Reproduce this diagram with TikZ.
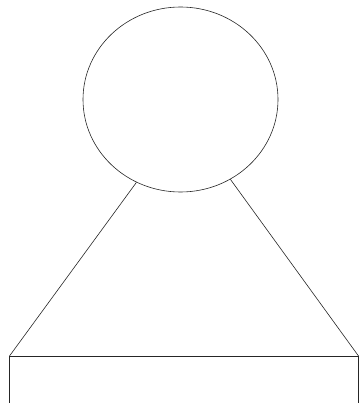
\documentclass[tikz,border=0pt]{standalone}
\usetikzlibrary{shapes.geometric}

\begin{document}
\begin{tikzpicture}[
x=1pt, y=-1pt,
line/.style={draw=black!85, line width=0.6pt},
head/.style={
    ellipse,
    line,
    inner sep=0pt,
    minimum width=195pt,
    minimum height=185pt
}
]
\useasboundingbox (0,0) rectangle (361,403);

% Circle on top
\node[head] (top) at (180.5,99.5) {};

% Corners of the base
\coordinate (left) at (9.5,356);
\coordinate (right) at (358.5,356);
\coordinate (leftend) at (9.5,403);
\coordinate (rightend) at (358.5,403);

% Lines
\draw[line] (top.242) -- (left);
\draw[line] (top.302) -- (right);
\draw[line] (left) -- (right);
\draw[line] (left) -- (leftend);
\draw[line] (right) -- (rightend);

\end{tikzpicture}
\end{document}
